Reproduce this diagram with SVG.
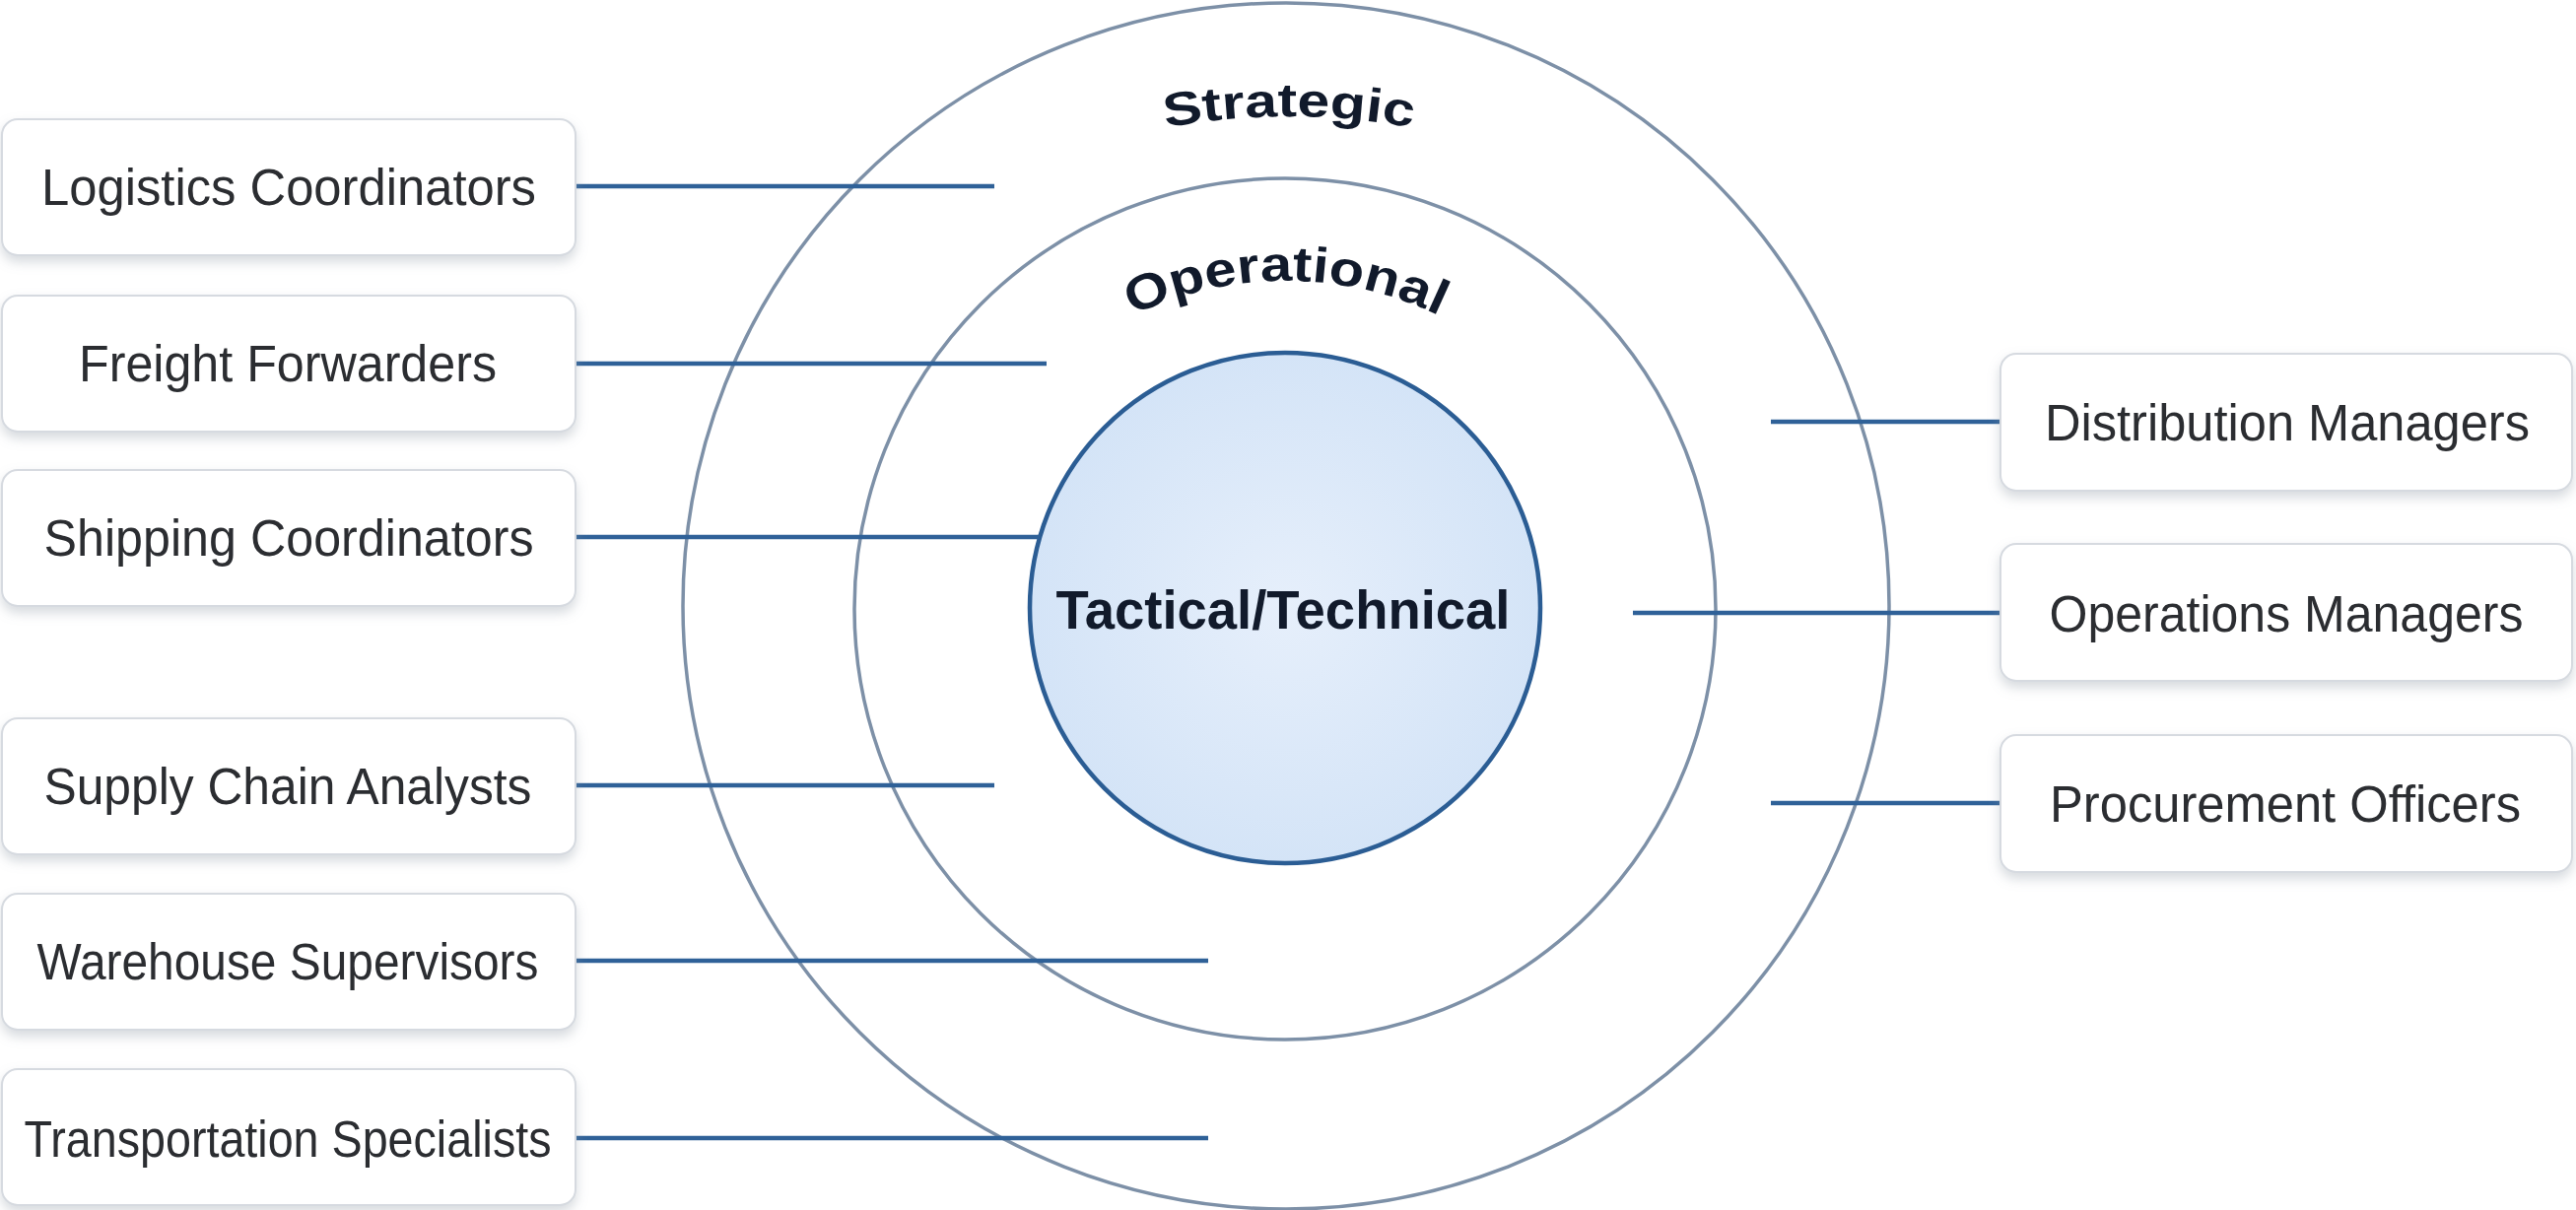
<svg xmlns="http://www.w3.org/2000/svg" width="2614" height="1228" viewBox="0 0 2614 1228">
<defs>
<filter id="shadow" x="-10%" y="-20%" width="120%" height="150%">
<feDropShadow dx="0" dy="6" stdDeviation="6" flood-color="#8a94a3" flood-opacity="0.35"/>
</filter>
<radialGradient id="core" cx="50%" cy="50%" r="50%">
<stop offset="0%" stop-color="#e6effb"/>
<stop offset="100%" stop-color="#d4e4f7"/>
</radialGradient>
<path id="arcStrategic" d="M 608 818 A 700 700 0 0 1 2008 818"/>
<path id="arcOperational" d="M 945 645 A 360 360 0 0 1 1665 645"/>
</defs>
<style>
.box{fill:#ffffff;stroke:#d6dae0;stroke-width:2;filter:url(#shadow)}
.lbl{font-family:"Liberation Sans",Arial,sans-serif;font-size:51px;fill:#2b2d31;text-anchor:middle}
.ring{fill:none;stroke:#7d90a7;stroke-width:3.5}
.core{fill:url(#core);stroke:#2b5d94;stroke-width:4.5}
.lvl{font-family:"Liberation Sans",Arial,sans-serif;font-weight:bold;fill:#111a2b}
.conn{stroke:#2f6198;stroke-width:4.5;fill:none}
</style>
<rect width="2614" height="1228" fill="#ffffff"/>

<g id="rings">
<circle class="ring" cx="1305" cy="615" r="612"/>
<circle class="ring" cx="1304" cy="618" r="437"/>
<circle class="core" cx="1304" cy="617" r="259"/>
</g>

<g id="level-labels">
<text class="lvl" font-size="48"><textPath href="#arcStrategic" startOffset="50%" text-anchor="middle" textLength="252" lengthAdjust="spacingAndGlyphs">Strategic</textPath></text>
<text class="lvl" font-size="50"><textPath href="#arcOperational" startOffset="50%" text-anchor="middle" textLength="322" lengthAdjust="spacingAndGlyphs">Operational</textPath></text>
<text class="lvl" font-size="55" x="1302" y="638" text-anchor="middle" textLength="461" lengthAdjust="spacingAndGlyphs">Tactical/Technical</text>
</g>

<g id="connectors">
<line class="conn" x1="584" y1="189" x2="1009" y2="189"/>
<line class="conn" x1="584" y1="369" x2="1062" y2="369"/>
<line class="conn" x1="584" y1="545" x2="1055" y2="545"/>
<line class="conn" x1="584" y1="797" x2="1009" y2="797"/>
<line class="conn" x1="584" y1="975" x2="1226" y2="975"/>
<line class="conn" x1="584" y1="1155" x2="1226" y2="1155"/>
<line class="conn" x1="1797" y1="428" x2="2030" y2="428"/>
<line class="conn" x1="1657" y1="622" x2="2030" y2="622"/>
<line class="conn" x1="1797" y1="815" x2="2030" y2="815"/>
</g>

<g id="node-logistics-coordinators">
<rect class="box" x="2" y="121" width="582" height="138" rx="16"/>
<text class="lbl" x="293" y="208" textLength="502" lengthAdjust="spacingAndGlyphs">Logistics Coordinators</text>
</g>
<g id="node-freight-forwarders">
<rect class="box" x="2" y="300" width="582" height="138" rx="16"/>
<text class="lbl" x="292" y="387" textLength="424" lengthAdjust="spacingAndGlyphs">Freight Forwarders</text>
</g>
<g id="node-shipping-coordinators">
<rect class="box" x="2" y="477" width="582" height="138" rx="16"/>
<text class="lbl" x="293" y="564" textLength="497" lengthAdjust="spacingAndGlyphs">Shipping Coordinators</text>
</g>
<g id="node-supply-chain-analysts">
<rect class="box" x="2" y="729" width="582" height="138" rx="16"/>
<text class="lbl" x="292" y="816" textLength="495" lengthAdjust="spacingAndGlyphs">Supply Chain Analysts</text>
</g>
<g id="node-warehouse-supervisors">
<rect class="box" x="2" y="907" width="582" height="138" rx="16"/>
<text class="lbl" x="292" y="994" textLength="509" lengthAdjust="spacingAndGlyphs">Warehouse Supervisors</text>
</g>
<g id="node-transportation-specialists">
<rect class="box" x="2" y="1085" width="582" height="138" rx="16"/>
<text class="lbl" x="292" y="1174" textLength="535" lengthAdjust="spacingAndGlyphs">Transportation Specialists</text>
</g>
<g id="node-distribution-managers">
<rect class="box" x="2030" y="359" width="580" height="139" rx="16"/>
<text class="lbl" x="2321" y="447" textLength="492" lengthAdjust="spacingAndGlyphs">Distribution Managers</text>
</g>
<g id="node-operations-managers">
<rect class="box" x="2030" y="552" width="580" height="139" rx="16"/>
<text class="lbl" x="2320" y="641" textLength="481" lengthAdjust="spacingAndGlyphs">Operations Managers</text>
</g>
<g id="node-procurement-officers">
<rect class="box" x="2030" y="746" width="580" height="139" rx="16"/>
<text class="lbl" x="2319" y="834" textLength="478" lengthAdjust="spacingAndGlyphs">Procurement Officers</text>
</g>
</svg>
